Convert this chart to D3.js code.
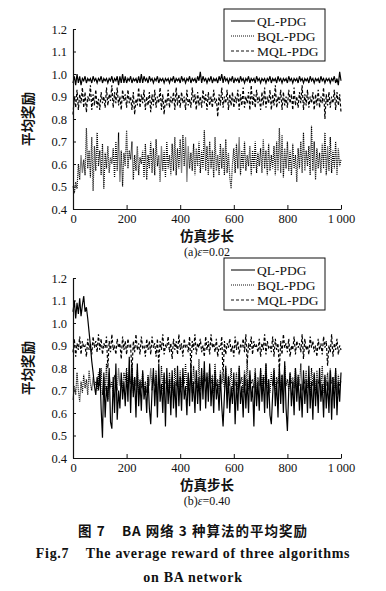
<html>
<head>
<meta charset="utf-8">
<script src="https://cdnjs.cloudflare.com/ajax/libs/d3/7.8.5/d3.min.js"></script>
<style>
body { margin: 0; background: #fff; }
svg text { fill: #111; }
</style>
</head>
<body>
<script>
// samples every 5 steps, 0..1000
var stepSize = 5;
var xTicks = [0, 200, 400, 600, 800, 1000];
var yTicks = [0.4, 0.5, 0.6, 0.7, 0.8, 0.9, 1.0, 1.1, 1.2];
var seriesNames = ['QL-PDG', 'BQL-PDG', 'MQL-PDG'];

// (a) eps = 0.02
var qlA = [
0.96,0.99,0.95,1.00,0.96,0.99,0.95,0.98,0.97,0.99,0.96,0.98,0.97,0.98,0.96,0.99,0.97,0.98,0.96,0.98,
0.97,0.99,0.96,0.98,0.97,0.98,0.96,0.98,0.97,0.99,0.96,0.98,0.97,0.99,0.95,0.99,0.96,1.00,0.96,0.99,
0.96,0.98,0.97,0.99,0.96,0.98,0.97,0.98,0.96,0.99,0.96,1.00,0.96,0.99,0.97,0.98,0.96,0.99,0.97,0.98,
0.96,0.98,0.97,0.99,0.96,0.98,0.97,0.98,0.96,0.98,0.97,0.98,0.96,0.98,0.97,0.99,0.96,0.98,0.97,0.98,
0.96,0.99,0.97,0.98,0.96,0.98,0.97,0.99,0.96,0.98,0.97,0.98,0.96,0.99,0.97,1.01,0.96,0.99,0.97,0.98,
0.96,0.98,0.97,0.99,0.96,0.98,0.97,0.98,0.96,0.99,0.97,1.00,0.96,0.99,0.97,0.98,0.96,0.98,0.97,0.99,
0.96,0.98,0.97,0.98,0.96,0.99,0.97,0.98,0.96,0.98,0.97,0.99,0.96,0.98,0.97,0.98,0.96,0.99,0.97,0.98,
0.96,0.98,0.97,0.98,0.96,0.98,0.97,0.99,0.96,0.98,0.97,0.98,0.96,0.99,0.97,0.98,0.96,0.98,0.97,0.98,
0.96,0.99,0.97,0.98,0.96,0.98,0.97,0.98,0.96,0.99,0.97,0.98,0.96,0.98,0.97,0.98,0.96,0.99,0.97,0.98,
0.96,0.98,0.97,0.98,0.96,0.99,0.97,0.98,0.96,0.98,0.97,0.98,0.96,0.98,0.97,0.99,0.96,0.98,0.95,1.01,
0.97];
var bqlA = [
0.50,0.47,0.52,0.49,0.60,0.53,0.64,0.56,0.62,0.55,0.76,0.58,0.66,0.54,0.72,0.48,0.68,0.57,0.74,0.59,
0.66,0.55,0.69,0.49,0.65,0.58,0.68,0.56,0.63,0.60,0.67,0.54,0.70,0.57,0.74,0.52,0.66,0.50,0.65,0.59,
0.75,0.58,0.66,0.62,0.70,0.53,0.64,0.57,0.68,0.55,0.63,0.60,0.66,0.54,0.69,0.53,0.64,0.58,0.70,0.56,
0.67,0.55,0.71,0.59,0.64,0.52,0.68,0.57,0.66,0.54,0.70,0.58,0.64,0.55,0.69,0.57,0.72,0.55,0.67,0.58,
0.71,0.56,0.73,0.59,0.72,0.52,0.68,0.58,0.65,0.57,0.69,0.55,0.67,0.59,0.70,0.56,0.66,0.58,0.75,0.57,
0.68,0.55,0.70,0.58,0.66,0.54,0.72,0.57,0.64,0.55,0.69,0.58,0.67,0.55,0.71,0.56,0.65,0.54,0.49,0.60,
0.67,0.56,0.69,0.58,0.72,0.55,0.66,0.58,0.70,0.57,0.64,0.59,0.68,0.55,0.66,0.58,0.70,0.56,0.65,0.59,
0.67,0.56,0.71,0.58,0.66,0.55,0.69,0.57,0.64,0.58,0.68,0.55,0.70,0.57,0.76,0.56,0.73,0.54,0.67,0.58,
0.70,0.57,0.66,0.55,0.69,0.58,0.64,0.52,0.67,0.58,0.70,0.56,0.74,0.57,0.66,0.59,0.68,0.55,0.77,0.57,
0.70,0.53,0.67,0.58,0.65,0.56,0.69,0.58,0.74,0.55,0.68,0.57,0.72,0.56,0.66,0.58,0.70,0.55,0.67,0.59,
0.62];
var mqlA = [
0.82,0.90,0.85,0.93,0.84,0.91,0.87,0.94,0.85,0.92,0.83,0.90,0.88,0.95,0.84,0.91,0.86,0.93,0.85,0.89,
0.84,0.92,0.87,0.90,0.85,0.94,0.86,0.91,0.88,0.95,0.85,0.92,0.87,0.94,0.86,0.90,0.84,0.93,0.88,0.91,
0.85,0.93,0.87,0.90,0.84,0.92,0.82,0.89,0.86,0.94,0.85,0.91,0.87,0.93,0.84,0.90,0.86,0.92,0.83,0.91,
0.86,0.93,0.85,0.90,0.87,0.94,0.84,0.91,0.82,0.89,0.86,0.93,0.85,0.90,0.87,0.92,0.84,0.94,0.86,0.91,
0.85,0.92,0.87,0.90,0.84,0.93,0.86,0.89,0.85,0.94,0.87,0.91,0.84,0.92,0.86,0.90,0.85,0.93,0.87,0.91,
0.84,0.92,0.86,0.90,0.85,0.93,0.87,0.89,0.81,0.91,0.86,0.94,0.85,0.90,0.87,0.93,0.84,0.91,0.86,0.92,
0.85,0.90,0.87,0.93,0.84,0.91,0.86,0.94,0.85,0.90,0.87,0.92,0.84,0.95,0.86,0.91,0.85,0.93,0.87,0.90,
0.84,0.92,0.86,0.94,0.85,0.90,0.87,0.93,0.84,0.91,0.86,0.95,0.85,0.90,0.87,0.93,0.84,0.92,0.86,0.90,
0.85,0.93,0.87,0.91,0.84,0.94,0.86,0.90,0.85,0.92,0.87,0.95,0.84,0.91,0.86,0.93,0.85,0.90,0.87,0.92,
0.84,0.91,0.86,0.93,0.85,0.90,0.87,0.94,0.80,0.91,0.86,0.92,0.85,0.90,0.87,0.93,0.84,0.92,0.86,0.91,
0.83];

// (b) eps = 0.40
var qlB = [
1.05,1.10,1.02,1.09,1.04,1.11,1.03,1.08,1.12,1.05,1.07,1.02,0.96,0.90,0.83,0.78,0.72,0.68,0.76,0.70,
0.80,0.62,0.49,0.78,0.58,0.72,0.65,0.80,0.56,0.53,0.76,0.60,0.82,0.57,0.70,0.62,0.78,0.66,0.74,0.63,
0.78,0.65,0.85,0.60,0.80,0.67,0.76,0.58,0.82,0.63,0.74,0.61,0.79,0.66,0.72,0.60,0.76,0.62,0.55,0.70,
0.80,0.63,0.77,0.58,0.82,0.65,0.73,0.60,0.78,0.54,0.80,0.64,0.75,0.59,0.79,0.62,0.74,0.58,0.81,0.63,
0.76,0.61,0.80,0.66,0.72,0.59,0.78,0.63,0.82,0.65,0.74,0.60,0.79,0.64,0.76,0.61,0.80,0.66,0.83,0.62,
0.78,0.65,0.82,0.63,0.75,0.60,0.79,0.66,0.73,0.61,0.77,0.63,0.54,0.68,0.80,0.62,0.76,0.60,0.72,0.64,
0.78,0.55,0.74,0.61,0.80,0.64,0.72,0.58,0.77,0.62,0.75,0.60,0.79,0.65,0.72,0.54,0.78,0.63,0.74,0.61,
0.80,0.65,0.76,0.60,0.82,0.62,0.75,0.59,0.55,0.68,0.79,0.63,0.74,0.58,0.81,0.64,0.77,0.60,0.83,0.62,
0.52,0.70,0.78,0.63,0.74,0.59,0.80,0.65,0.76,0.61,0.73,0.58,0.79,0.64,0.75,0.60,0.81,0.62,0.74,0.57,
0.78,0.63,0.75,0.60,0.80,0.65,0.73,0.58,0.77,0.62,0.74,0.60,0.79,0.57,0.76,0.62,0.80,0.59,0.74,0.65,
0.78];
var bqlB = [
0.66,0.72,0.68,0.78,0.70,0.65,0.74,0.69,0.77,0.71,0.75,0.68,0.79,0.73,0.70,0.76,0.72,0.74,0.70,0.78,
0.72,0.80,0.68,0.76,0.70,0.82,0.66,0.78,0.71,0.74,0.69,0.77,0.73,0.70,0.80,0.72,0.75,0.71,0.78,0.74,
0.80,0.71,0.77,0.73,0.82,0.69,0.76,0.72,0.79,0.68,0.75,0.71,0.78,0.70,0.74,0.69,0.77,0.72,0.80,0.70,
0.76,0.72,0.79,0.68,0.75,0.71,0.81,0.70,0.77,0.73,0.74,0.69,0.78,0.71,0.76,0.68,0.80,0.72,0.75,0.70,
0.79,0.71,0.77,0.73,0.82,0.70,0.76,0.72,0.78,0.69,0.81,0.73,0.75,0.71,0.84,0.70,0.77,0.72,0.79,0.74,
0.76,0.71,0.80,0.73,0.77,0.69,0.82,0.72,0.75,0.70,0.79,0.73,0.76,0.71,0.81,0.68,0.77,0.72,0.80,0.70,
0.75,0.72,0.78,0.70,0.81,0.73,0.76,0.69,0.79,0.72,0.83,0.70,0.77,0.73,0.75,0.71,0.80,0.68,0.76,0.72,
0.79,0.70,0.77,0.73,0.82,0.71,0.75,0.69,0.78,0.72,0.80,0.70,0.76,0.73,0.79,0.71,0.77,0.68,0.81,0.72,
0.75,0.70,0.78,0.73,0.76,0.71,0.80,0.69,0.77,0.72,0.82,0.70,0.75,0.73,0.79,0.71,0.76,0.68,0.80,0.72,
0.77,0.70,0.79,0.73,0.75,0.71,0.81,0.69,0.76,0.72,0.78,0.70,0.80,0.73,0.76,0.71,0.79,0.68,0.77,0.72,
0.74];
var mqlB = [
0.87,0.93,0.85,0.91,0.88,0.94,0.86,0.92,0.89,0.90,0.85,0.93,0.88,0.91,0.86,0.94,0.89,0.92,0.87,0.95,
0.88,0.93,0.86,0.91,0.89,0.94,0.80,0.92,0.87,0.95,0.88,0.90,0.86,0.93,0.89,0.91,0.84,0.94,0.88,0.92,
0.86,0.93,0.89,0.90,0.78,0.92,0.87,0.95,0.88,0.91,0.86,0.94,0.89,0.90,0.85,0.93,0.88,0.92,0.86,0.94,
0.89,0.91,0.85,0.93,0.82,0.92,0.88,0.95,0.86,0.90,0.89,0.94,0.87,0.91,0.84,0.93,0.88,0.92,0.86,0.95,
0.88,0.91,0.85,0.93,0.89,0.90,0.87,0.94,0.80,0.92,0.88,0.95,0.86,0.91,0.89,0.93,0.87,0.90,0.85,0.94,
0.88,0.92,0.86,0.95,0.89,0.91,0.87,0.93,0.85,0.90,0.88,0.94,0.76,0.92,0.86,0.91,0.89,0.93,0.87,0.90,
0.85,0.94,0.88,0.92,0.86,0.90,0.89,0.93,0.87,0.95,0.82,0.91,0.88,0.94,0.86,0.92,0.89,0.90,0.87,0.93,
0.85,0.91,0.88,0.95,0.86,0.92,0.89,0.90,0.87,0.94,0.85,0.93,0.88,0.91,0.79,0.92,0.86,0.95,0.89,0.91,
0.87,0.93,0.85,0.90,0.88,0.94,0.86,0.92,0.89,0.91,0.87,0.95,0.84,0.93,0.88,0.90,0.86,0.94,0.89,0.92,
0.87,0.90,0.85,0.93,0.88,0.91,0.86,0.94,0.89,0.92,0.81,0.90,0.87,0.95,0.85,0.91,0.88,0.93,0.86,0.90,
0.88];

var W = 386, H = 591;
var serif = '"Liberation Serif", "DejaVu Serif", serif';
var cjk = '"Noto Sans CJK SC", sans-serif';
var dashes = {'QL-PDG': null, 'BQL-PDG': '1,1', 'MQL-PDG': '3,2'};

var svg = d3.select('body').append('svg')
  .attr('width', W)
  .attr('height', H);

function drawPanel(top, data, caption, epsVal) {
  var left = 73, right = 341, plotTop = top, plotBottom = top + 180;
  var x = d3.scaleLinear().domain([0, 1000]).range([left, right]);
  var y = d3.scaleLinear().domain([0.4, 1.2]).range([plotBottom, plotTop]);
  var g = svg.append('g');

  var line = d3.line()
    .x(function(d, i) { return x(i * stepSize); })
    .y(function(d) { return y(d); });

  // draw order: dotted, dashed, solid
  ['BQL-PDG', 'MQL-PDG', 'QL-PDG'].forEach(function(name) {
    g.append('path')
      .datum(data[name])
      .attr('d', line)
      .attr('fill', 'none')
      .attr('stroke', '#000')
      .attr('stroke-width', 1.2)
      .attr('stroke-dasharray', dashes[name]);
  });

  var yAxis = d3.axisLeft(y).tickValues(yTicks).tickFormat(d3.format('.1f'))
    .tickSize(-3).tickSizeOuter(0).tickPadding(6);
  var ya = g.append('g').attr('transform', 'translate(' + left + ',0)').call(yAxis);

  var xAxis = d3.axisBottom(x).tickValues(xTicks)
    .tickFormat(function(d) { return d === 1000 ? '1\u2009000' : d; })
    .tickSize(-4).tickSizeOuter(0).tickPadding(5);
  var xa = g.append('g').attr('transform', 'translate(0,' + plotBottom + ')').call(xAxis);

  [ya, xa].forEach(function(a) {
    a.selectAll('path').attr('stroke', '#111').attr('stroke-width', 1.2);
    a.selectAll('line').attr('stroke', '#111');
    a.selectAll('text').style('font-family', serif).style('font-size', '12.5px').attr('fill', '#111');
  });

  g.append('text')
    .attr('transform', 'translate(33,' + (plotTop + 90) + ') rotate(-90)')
    .attr('text-anchor', 'middle')
    .style('font-family', cjk).style('font-size', '13.5px').style('font-weight', 700)
    .text('平均奖励');

  g.append('text')
    .attr('x', (left + right) / 2).attr('y', plotBottom + 32)
    .attr('text-anchor', 'middle')
    .style('font-family', cjk).style('font-size', '13.5px').style('font-weight', 700)
    .text('仿真步长');

  var cap = g.append('text')
    .attr('x', (left + right) / 2).attr('y', plotBottom + 47)
    .attr('text-anchor', 'middle')
    .style('font-family', serif).style('font-size', '12px');
  cap.append('tspan').text('(' + caption + ')');
  cap.append('tspan').style('font-style', 'italic').text('ε');
  cap.append('tspan').text('=' + epsVal);

  // legend
  var lg = g.append('g').attr('transform', 'translate(224,' + (plotTop - 20) + ')');
  lg.append('rect').attr('width', 101).attr('height', 52)
    .attr('fill', '#fff').attr('stroke', '#111').attr('stroke-width', 1);
  seriesNames.forEach(function(name, i) {
    var yy = 12 + i * 15;
    lg.append('line').attr('x1', 7).attr('x2', 31).attr('y1', yy).attr('y2', yy)
      .attr('stroke', '#111').attr('stroke-width', 1.1)
      .attr('stroke-dasharray', dashes[name]);
    lg.append('text').attr('x', 33).attr('y', yy + 4.5)
      .style('font-family', serif).style('font-size', '13.5px')
      .text(name);
  });
}

drawPanel(29, {'QL-PDG': qlA, 'BQL-PDG': bqlA, 'MQL-PDG': mqlA}, 'a', '0.02');
drawPanel(278, {'QL-PDG': qlB, 'BQL-PDG': bqlB, 'MQL-PDG': mqlB}, 'b', '0.40');

// figure captions
svg.append('text').attr('x', 193).attr('y', 536).attr('text-anchor', 'middle')
  .style('font-family', cjk).style('font-size', '13.5px').style('font-weight', 700)
  .style('letter-spacing', '1px')
  .attr('xml:space', 'preserve')
  .text('图 7    BA 网络 3 种算法的平均奖励');
svg.append('text').attr('x', 193).attr('y', 558).attr('text-anchor', 'middle')
  .style('font-family', serif).style('font-size', '14px').style('font-weight', 700)
  .style('letter-spacing', '0.7px')
  .attr('xml:space', 'preserve')
  .text('Fig.7    The average reward of three algorithms');
svg.append('text').attr('x', 193).attr('y', 582).attr('text-anchor', 'middle')
  .style('font-family', serif).style('font-size', '14px').style('font-weight', 700)
  .style('letter-spacing', '0.7px')
  .text('on BA network');
</script>
</body>
</html>
